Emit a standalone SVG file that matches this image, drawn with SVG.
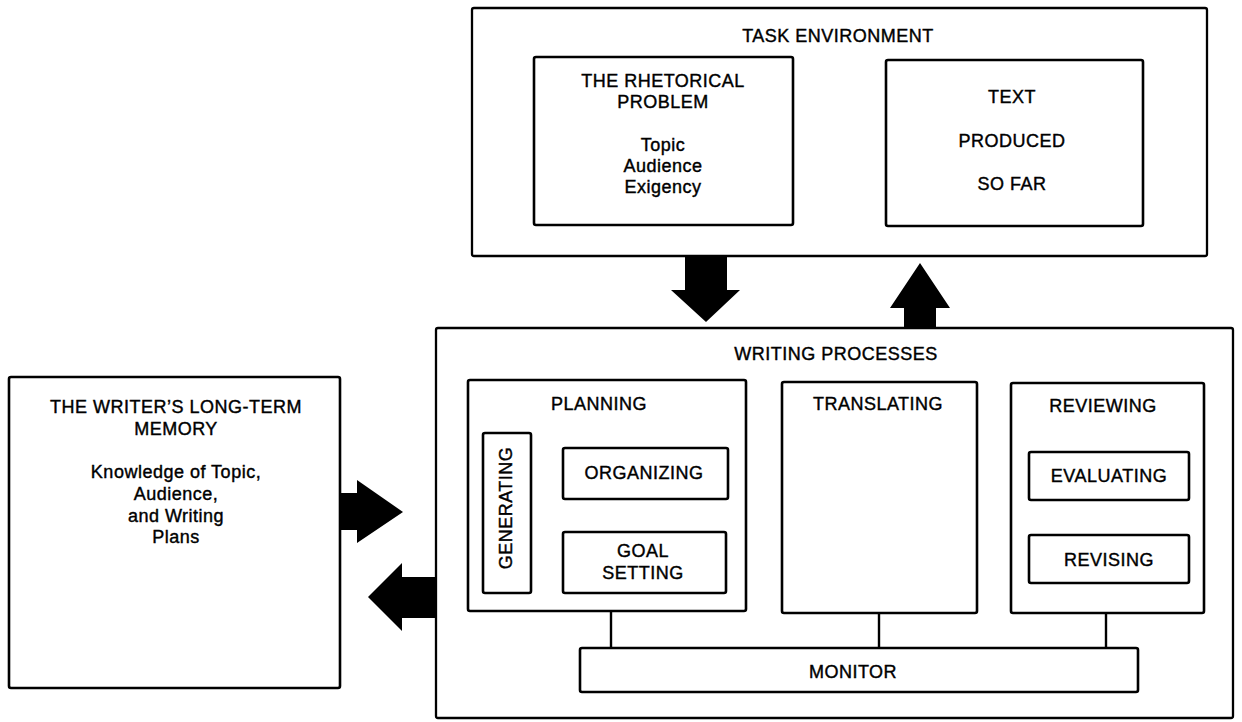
<svg xmlns="http://www.w3.org/2000/svg" width="1242" height="722" viewBox="0 0 1242 722">
<style>
  .box { fill: #fff; stroke: #000; stroke-width: 2.6; }
  .outer { fill: none; stroke: #000; stroke-width: 2.3; }
  text { font-family: "Liberation Sans", Arial, Helvetica, sans-serif; font-size: 18px; letter-spacing: 0.5px; fill: #000; stroke: #000; stroke-width: 0.4px; text-anchor: middle; }
  .link { stroke: #000; stroke-width: 2.4; fill: none; }
  .fat { fill: #000; stroke: none; }
</style>
<rect width="1242" height="722" fill="#fff"/>

<g id="task-environment">
  <rect class="outer" x="472" y="8" width="735" height="248" rx="2"/>
  <text x="838" y="42">TASK ENVIRONMENT</text>
</g>
<g id="rhetorical-problem">
  <rect class="box" x="534" y="57" width="259" height="168" rx="2"/>
  <text x="663" y="87">THE RHETORICAL</text>
  <text x="663" y="108">PROBLEM</text>
  <text x="663" y="151">Topic</text>
  <text x="663" y="172">Audience</text>
  <text x="663" y="193">Exigency</text>
</g>
<g id="text-produced">
  <rect class="box" x="886" y="60" width="257" height="166" rx="2"/>
  <text x="1012" y="103">TEXT</text>
  <text x="1012" y="147">PRODUCED</text>
  <text x="1012" y="190">SO FAR</text>
</g>

<g id="long-term-memory">
  <rect class="box" x="9" y="377" width="331" height="311" rx="2"/>
  <text x="176" y="413">THE WRITER’S LONG-TERM</text>
  <text x="176" y="435">MEMORY</text>
  <text x="176" y="478">Knowledge of Topic,</text>
  <text x="176" y="500">Audience,</text>
  <text x="176" y="522">and Writing</text>
  <text x="176" y="543">Plans</text>
</g>

<g id="writing-processes">
  <rect class="outer" x="436" y="328" width="797" height="390" rx="2"/>
  <text x="836" y="360">WRITING PROCESSES</text>
</g>
<g id="planning">
  <rect class="box" x="468" y="380" width="278" height="231" rx="2"/>
  <text x="599" y="410">PLANNING</text>
</g>
<g id="generating">
  <rect class="box" x="483" y="433" width="48" height="160" rx="2"/>
  <text transform="translate(512,508) rotate(-90)" x="0" y="0">GENERATING</text>
</g>
<g id="organizing">
  <rect class="box" x="563" y="448" width="165" height="51" rx="2"/>
  <text x="644" y="479">ORGANIZING</text>
</g>
<g id="goal-setting">
  <rect class="box" x="563" y="532" width="163" height="61" rx="2"/>
  <text x="643" y="557">GOAL</text>
  <text x="643" y="579">SETTING</text>
</g>
<g id="translating">
  <rect class="box" x="782" y="382" width="195" height="231" rx="2"/>
  <text x="878" y="410">TRANSLATING</text>
</g>
<g id="reviewing">
  <rect class="box" x="1011" y="383" width="193" height="230" rx="2"/>
  <text x="1103" y="412">REVIEWING</text>
</g>
<g id="evaluating">
  <rect class="box" x="1029" y="452" width="160" height="48" rx="2"/>
  <text x="1109" y="482">EVALUATING</text>
</g>
<g id="revising">
  <rect class="box" x="1029" y="535" width="160" height="48" rx="2"/>
  <text x="1109" y="566">REVISING</text>
</g>
<g id="monitor">
  <rect class="box" x="580" y="648" width="558" height="44" rx="2"/>
  <text x="853" y="678">MONITOR</text>
</g>

<g id="connectors">
  <line class="link" x1="611" y1="611" x2="611" y2="648"/>
  <line class="link" x1="879" y1="613" x2="879" y2="648"/>
  <line class="link" x1="1106" y1="613" x2="1106" y2="648"/>
  <polygon class="fat" points="685,256 727,256 727,290 740,290 706,322 671,290 685,290"/>
  <polygon class="fat" points="904,328 904,308 890,308 920,263 950,308 936,308 936,328"/>
  <polygon class="fat" points="340,493 357,493 357,480 403,512 357,543 357,530 340,530"/>
  <polygon class="fat" points="436,577 402,577 402,563 368,597 402,631 402,618 436,618"/>
</g>
</svg>
